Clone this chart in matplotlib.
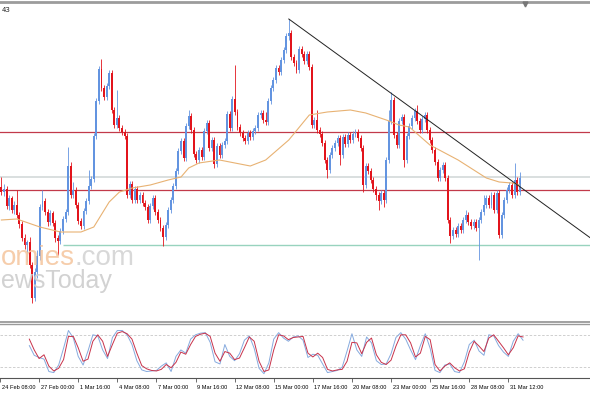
import matplotlib
matplotlib.use("Agg")
import matplotlib.pyplot as plt
import matplotlib.transforms as mtransforms
from matplotlib.lines import Line2D
import numpy as np

# H4 candles, price in points
opens = [143, 138, 141, 124, 132, 120, 125, 115, 106, 92,
         85, 88, 65, 32, 58, 74, 123, 129, 118, 108,
         117, 107, 92, 89, 99, 111, 118, 164, 135, 140,
         125, 109, 104, 119, 129, 144, 151, 194, 229, 261,
         242, 233, 244, 257, 220, 205, 212, 202, 198, 194,
         135, 146, 130, 141, 130, 135, 127, 123, 110, 124,
         132, 118, 110, 102, 93, 105, 120, 130, 144, 159,
         179, 189, 172, 204, 214, 200, 176, 170, 180, 173,
         199, 207, 182, 190, 166, 184, 175, 185, 189, 216,
         202, 231, 218, 203, 197, 192, 189, 197, 193, 199,
         202, 215, 217, 210, 208, 229, 242, 250, 262, 258,
         270, 280, 294, 297, 273, 267, 260, 281, 276, 269,
         276, 263, 205, 210, 200, 196, 187, 170, 160, 175,
         182, 187, 192, 175, 193, 186, 195, 190, 196, 198,
         192, 182, 145, 164, 159, 150, 141, 135, 129, 137,
         130, 170, 209, 230, 195, 185, 209, 213, 170, 194,
         204, 212, 219, 209, 200, 211, 215, 200, 190, 180,
         168, 152, 160, 165, 152, 110, 94, 100, 96, 104,
         100, 110, 115, 108, 104, 108, 102, 110, 118, 125,
         132, 125, 135, 120, 137, 95, 115, 130, 140, 145,
         135, 150, 138]
closes = [138, 141, 124, 132, 120, 125, 115, 106, 92, 85,
          88, 65, 32, 58, 74, 123, 129, 118, 108, 117,
          107, 92, 89, 99, 111, 118, 164, 135, 140, 125,
          109, 104, 119, 129, 144, 151, 194, 229, 261, 242,
          233, 244, 257, 220, 205, 212, 202, 198, 194, 135,
          146, 130, 141, 130, 135, 127, 123, 110, 124, 132,
          118, 110, 102, 93, 105, 120, 130, 144, 159, 179,
          189, 172, 204, 214, 200, 176, 170, 180, 173, 199,
          207, 182, 190, 166, 184, 175, 185, 189, 216, 202,
          231, 218, 203, 197, 192, 189, 197, 193, 199, 202,
          215, 217, 210, 208, 229, 242, 250, 262, 258, 270,
          280, 294, 297, 273, 267, 260, 281, 276, 269, 276,
          263, 205, 210, 200, 196, 187, 170, 160, 175, 182,
          187, 192, 175, 193, 186, 195, 190, 196, 198, 192,
          182, 145, 164, 159, 150, 141, 135, 129, 137, 130,
          170, 209, 230, 195, 185, 209, 213, 170, 194, 204,
          212, 219, 209, 200, 211, 215, 200, 190, 180, 168,
          152, 160, 165, 152, 110, 94, 100, 96, 104, 100,
          110, 115, 108, 104, 108, 102, 110, 118, 125, 132,
          125, 135, 120, 137, 95, 115, 130, 140, 145, 135,
          150, 138, 152]
highs = [153, 146, 144, 135, 134, 129, 140, 118, 109, 96,
         90, 93, 68, 62, 80, 126, 140, 132, 121, 120,
         119, 110, 95, 102, 114, 121, 183, 168, 148, 143,
         128, 112, 122, 132, 160, 154, 197, 232, 264, 271,
         245, 247, 260, 260, 223, 240, 215, 205, 201, 197,
         149, 149, 144, 144, 138, 138, 130, 126, 127, 135,
         135, 121, 113, 105, 108, 123, 133, 147, 162, 182,
         192, 192, 207, 220, 217, 203, 179, 183, 183, 202,
         210, 210, 193, 193, 187, 187, 188, 192, 219, 219,
         234, 265, 221, 206, 200, 195, 200, 200, 202, 205,
         218, 220, 220, 218, 232, 245, 253, 265, 265, 273,
         283, 297, 311, 300, 276, 270, 284, 284, 279, 279,
         279, 266, 213, 220, 203, 199, 190, 173, 178, 185,
         190, 195, 195, 196, 196, 198, 198, 199, 201, 201,
         195, 185, 167, 167, 162, 153, 144, 138, 140, 140,
         173, 220, 238, 233, 198, 212, 216, 216, 197, 207,
         215, 222, 225, 212, 214, 218, 218, 203, 193, 183,
         171, 163, 168, 168, 155, 113, 103, 103, 107, 107,
         113, 120, 118, 111, 111, 111, 113, 121, 135, 135,
         135, 138, 138, 140, 140, 118, 133, 143, 148, 148,
         167, 153, 158]
lows = [135, 134, 121, 120, 117, 116, 112, 102, 89, 81,
        68, 62, 27, 29, 52, 70, 120, 115, 104, 105,
        104, 88, 75, 86, 96, 108, 115, 132, 132, 122,
        106, 101, 101, 116, 126, 141, 148, 191, 226, 239,
        230, 230, 241, 217, 202, 202, 199, 195, 191, 132,
        132, 127, 127, 127, 127, 124, 120, 107, 107, 121,
        115, 107, 99, 84, 90, 102, 117, 127, 141, 156,
        176, 169, 169, 201, 197, 173, 167, 167, 170, 170,
        196, 179, 179, 162, 163, 172, 172, 182, 186, 199,
        199, 215, 200, 194, 189, 186, 186, 190, 190, 196,
        199, 212, 207, 205, 205, 226, 239, 247, 255, 255,
        267, 277, 290, 270, 264, 257, 257, 273, 266, 266,
        260, 202, 202, 197, 193, 184, 167, 152, 157, 172,
        179, 184, 165, 172, 183, 183, 187, 187, 193, 189,
        179, 138, 142, 156, 147, 138, 130, 120, 126, 123,
        127, 167, 206, 192, 182, 182, 206, 163, 167, 191,
        201, 209, 206, 197, 197, 208, 197, 187, 177, 165,
        149, 149, 157, 149, 107, 87, 91, 93, 93, 97,
        97, 107, 105, 101, 101, 99, 70, 107, 115, 122,
        122, 122, 117, 117, 92, 92, 112, 127, 137, 132,
        132, 135, 135]

# moving average
ma_bars = [0, 6, 15, 23, 31, 36, 42, 46, 51, 58, 65, 70, 73, 77, 85, 97, 103,
           112, 120, 127, 136, 142, 150, 155, 159, 167, 178, 189, 194, 199, 202]
ma_vals = [110, 111, 103, 98, 98, 103, 128, 138, 142, 145, 150, 153, 162, 167,
           170, 164, 170, 190, 215, 218, 220, 217, 210, 205, 203, 185, 170, 152,
           148, 147, 145]

# support / resistance and trend line
red_levels = [198, 140]
grey_level = 153
green_level = 85
green_from = 24
trend_bars = [112, 202]
trend_prices = [311, 143.4]

# stochastic, every 2nd bar
stoch_bars = list(range(0, 203, 2))
stoch_k = [60, 42, 38, 35, 12, 10, 24, 55, 88, 74,
           40, 24, 50, 80, 78, 52, 36, 75, 88, 88,
           80, 62, 32, 15, 12, 13, 14, 22, 28, 12,
           40, 52, 46, 72, 80, 83, 84, 66, 30, 26,
           62, 40, 32, 45, 70, 78, 55, 18, 8, 28,
           72, 84, 74, 68, 76, 78, 70, 38, 44, 42,
           26, 10, 12, 14, 20, 50, 82, 52, 40, 76,
           65, 32, 25, 26, 45, 75, 84, 72, 52, 34,
           60, 82, 55, 14, 10, 24, 26, 12, 10, 30,
           62, 70, 50, 42, 80, 78, 60, 48, 40, 68,
           82, 70]
stoch_d = [72, 52, 36, 43, 22, 13, 18, 34, 77, 77,
           56, 31, 35, 68, 80, 68, 40, 62, 83, 86,
           82, 72, 46, 23, 17, 14, 13, 16, 25, 19,
           29, 48, 44, 62, 77, 81, 83, 77, 46, 31,
           49, 46, 34, 37, 56, 76, 68, 31, 12, 15,
           52, 80, 78, 71, 75, 76, 77, 46, 39, 46,
           38, 16, 13, 15, 16, 31, 66, 65, 45, 66,
           74, 43, 29, 25, 33, 59, 80, 80, 65, 39,
           46, 77, 71, 25, 13, 22, 28, 19, 13, 17,
           48, 68, 59, 49, 74, 80, 68, 56, 43, 56,
           78, 76]

tick_bars = [-12, 4, 20, 36, 52, 68, 84, 100, 116, 132, 148, 164, 180, 196]
tick_labels = ["24 Feb 08:00", "27 Feb 00:00", "1 Mar 16:00", "4 Mar 08:00",
               "7 Mar 00:00", "9 Mar 16:00", "12 Mar 08:00", "15 Mar 00:00",
               "17 Mar 16:00", "20 Mar 08:00", "23 Mar 00:00", "25 Mar 16:00",
               "28 Mar 08:00", "31 Mar 12:00"]

BULL = "#6394e0"
BEAR = "#e2141c"
W, H = 590, 393
XLIM = (-0.55, 229.4)

fig = plt.figure(figsize=(W / 100, H / 100), dpi=100)
fig.patch.set_facecolor("white")

ax = fig.add_axes([0, 1 - 322 / H, 1, (322 - 5) / H])
ax_st = fig.add_axes([0, 1 - 378 / H, 1, (378 - 324) / H])

# main panel
x = np.arange(len(closes))
o = np.array(opens, dtype=float)
c = np.array(closes, dtype=float)
up = c >= o
cols = np.where(up, BULL, BEAR)

for lv in red_levels:
    ax.axhline(lv, color="#c23a4a", lw=0.9, zorder=1)
ax.axhline(grey_level, color="#cfd6d6", lw=1.1, zorder=1)
ax.hlines(green_level, green_from, XLIM[1], color="#98d3be", lw=1.0, zorder=1)

ax.vlines(x, lows, highs, colors=cols, lw=0.6, zorder=3)
body = np.maximum(np.abs(c - o), 0.8)
ax.bar(x, body, bottom=np.minimum(o, c), width=0.75, color=cols, lw=0, zorder=4)

ax.plot(ma_bars, ma_vals, color="#e8b273", lw=0.8, zorder=5)

slope = (trend_prices[1] - trend_prices[0]) / (trend_bars[1] - trend_bars[0])
ax.plot([trend_bars[0], XLIM[1]],
        [trend_prices[0], trend_prices[0] + slope * (XLIM[1] - trend_bars[0])],
        color="#222222", lw=0.7, zorder=6)

ax.set_xlim(*XLIM)
ax.set_ylim(8, 325)
ax.set_xticks([])
ax.set_yticks([])
for s in ["top", "left", "right"]:
    ax.spines[s].set_visible(False)
ax.spines["bottom"].set_color("#9a9a9a")
ax.spines["bottom"].set_linewidth(1.3)
ax.patch.set_alpha(0)

# stochastic panel
for lv in [80, 20]:
    ax_st.axhline(lv, color="#c8c8c8", lw=0.6, ls=(0, (3, 2)))
ax_st.plot(stoch_bars, stoch_k, color="#86aade", lw=0.7)
ax_st.plot(stoch_bars, stoch_d, color="#c8324a", lw=0.7)
ax_st.set_xlim(*XLIM)
ax_st.set_ylim(0, 100)
ax_st.set_yticks([])
for s in ["left", "right"]:
    ax_st.spines[s].set_visible(False)
ax_st.spines["top"].set_color("#9a9a9a")
ax_st.spines["top"].set_linewidth(1.0)
ax_st.spines["bottom"].set_color("#555555")
ax_st.spines["bottom"].set_linewidth(0.8)
ax_st.set_xticks(tick_bars)
ax_st.set_xticklabels(tick_labels, fontsize=4.1, family="Liberation Sans")
ax_st.tick_params(axis="x", length=3, width=0.6, color="#555555", pad=2)
offset = mtransforms.ScaledTranslation(1.5 / 100, 0, fig.dpi_scale_trans)
for lab in ax_st.get_xticklabels():
    lab.set_ha("left")
    lab.set_transform(lab.get_transform() + offset)

# frame details
fig.add_artist(Line2D([0, 1], [1 - 2 / H] * 2, color="#9c9c9c", lw=2.0,
                      transform=fig.transFigure))
fig.add_artist(Line2D([525 / W], [1 - 4 / H], marker="v", markersize=3.5,
                      color="#777777", transform=fig.transFigure))
fig.text(2 / W, 1 - 10.5 / H, "43", fontsize=5, color="#222222", va="center")

# watermark
t1 = fig.text(0.5 / W, 1 - 265 / H, "omies", fontsize=20, color="#f5c8a2",
              family="Liberation Sans", alpha=0.9, zorder=10)
fig.canvas.draw()
bb = t1.get_window_extent()
fig.text(bb.x1 / W, 1 - 265 / H, ".com", fontsize=20, color="#d4d4d4",
         family="Liberation Sans", alpha=0.9, zorder=10)
fig.text(0.5 / W, 1 - 288 / H, "ewsToday", fontsize=18, color="#cdcdcd",
         family="Liberation Sans", alpha=0.9, zorder=10)

fig.savefig("out.png", dpi=100)
